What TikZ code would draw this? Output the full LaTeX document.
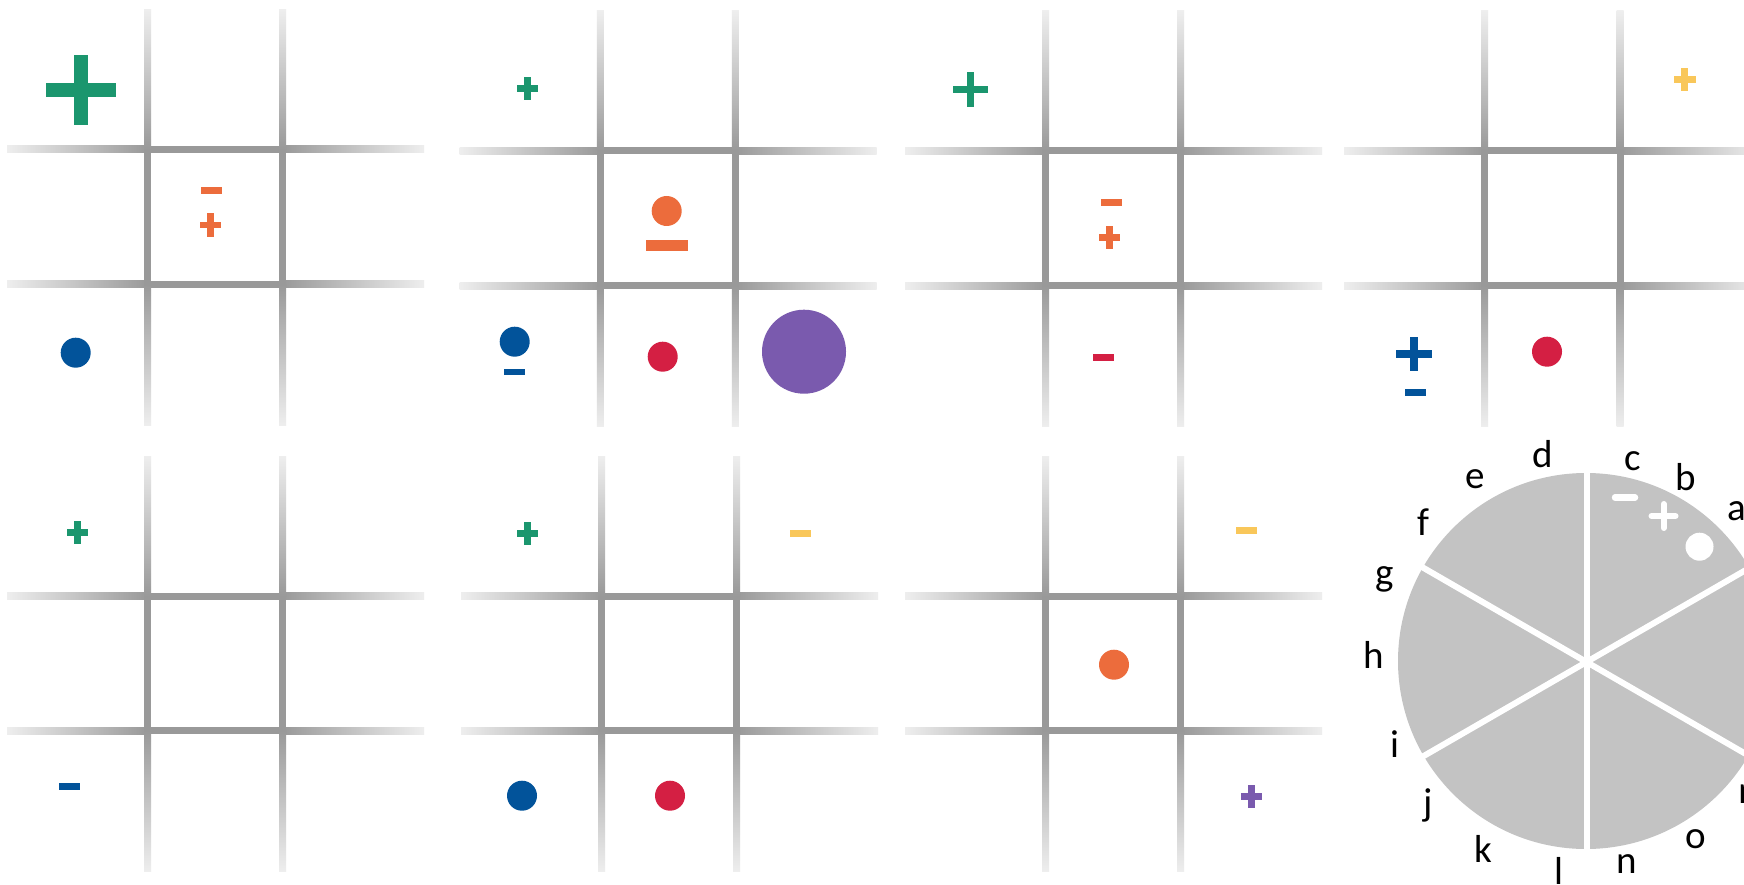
\documentclass[tikz,border=0pt]{standalone}
\usepackage{fontspec}
\setmainfont{Carlito}
\definecolor{gline}{HTML}{999999}
\definecolor{gfade}{HTML}{EEEEEE}
\definecolor{cgreen}{HTML}{1B966E}
\definecolor{corange}{HTML}{EC6C3C}
\definecolor{cblue}{HTML}{02539A}
\definecolor{cred}{HTML}{D41F43}
\definecolor{cpurple}{HTML}{7A5AAE}
\definecolor{cyellow}{HTML}{F9C75A}
\definecolor{piegray}{HTML}{C3C3C3}
\newcommand\GridPanel[4]{%
  \foreach \yy in {#3,#4}{%
    \shade[left color=gfade,right color=gline] (#1-140.7,\yy-3.5) rectangle (#1,\yy+3.5);
    \fill[gline] (#1-0.5,\yy-3.5) rectangle (#2+0.5,\yy+3.5);
    \shade[left color=gline,right color=gfade] (#2,\yy-3.5) rectangle (#2+141.3,\yy+3.5);
  }%
  \foreach \xx in {#1,#2}{%
    \shade[top color=gfade,bottom color=gline] (\xx-3.5,#3-140) rectangle (\xx+3.5,#3);
    \fill[gline] (\xx-3.5,#3-0.5) rectangle (\xx+3.5,#4+0.5);
    \shade[top color=gline,bottom color=gfade] (\xx-3.5,#4) rectangle (\xx+3.5,#4+141);
  }}
% plus: x, y, half width, half height, half thickness, colour
\newcommand\PlusMk[6]{%
  \fill[#6] (#1-#3,#2-#5) rectangle (#1+#3,#2+#5);
  \fill[#6] (#1-#5,#2-#4) rectangle (#1+#5,#2+#4);}
% minus: x, y, half width, half thickness, colour
\newcommand\MinusMk[5]{%
  \fill[#5] (#1-#3,#2-#4) rectangle (#1+#3,#2+#4);}
\newcommand\DotMk[4]{%
  \fill[#4] (#1,#2) circle[radius=#3pt];}
\tikzset{lbl/.style={anchor=base,inner sep=0pt,font=\fontsize{39}{46}\selectfont}}
\begin{document}
\begin{tikzpicture}[x=1pt,y=-1pt]
\useasboundingbox (0,0) rectangle (1744,885);
\fill[white] (0,0) rectangle (1744,885);
\clip (0,0) rectangle (1744,885);
% grids
\GridPanel{147.7}{282.7}{149.3}{284.3}
\GridPanel{600.3}{735.3}{151}{285.7}
\GridPanel{1045.7}{1180.7}{151}{285.7}
\GridPanel{1484.7}{1620}{151}{285.7}
\GridPanel{147.7}{282.7}{596}{730.7}
\GridPanel{601.7}{736.7}{596}{730.7}
\GridPanel{1045.7}{1180.7}{596}{730.7}
% panel 1
\PlusMk{80.7}{90}{35}{35}{6.8}{cgreen}
\MinusMk{211.7}{190.7}{10.7}{3.4}{corange}
\PlusMk{210.7}{225}{10.7}{11.7}{3.4}{corange}
\DotMk{75.7}{352.7}{15}{cblue}
% panel 2
\PlusMk{527.3}{88.3}{10.7}{11.5}{3.5}{cgreen}
\DotMk{666.7}{211}{15}{corange}
\MinusMk{666.7}{245.7}{20.8}{5.7}{corange}
\DotMk{514.7}{341.7}{15}{cblue}
\MinusMk{514}{371.7}{10.5}{3.2}{cblue}
\DotMk{662.7}{356.7}{15}{cred}
\DotMk{804}{351.7}{42}{cpurple}
% panel 3
\PlusMk{970.3}{89.7}{17.8}{17.3}{3.7}{cgreen}
\MinusMk{1111}{203}{10.5}{3.5}{corange}
\PlusMk{1109.7}{237.3}{10.5}{11.5}{3.5}{corange}
\MinusMk{1103.7}{357}{10.5}{3.5}{cred}
% panel 4
\PlusMk{1684.7}{79.7}{10.8}{11.5}{3.5}{cyellow}
\PlusMk{1414.3}{354}{18}{16.8}{4}{cblue}
\MinusMk{1415.7}{392.3}{10.5}{3.5}{cblue}
\DotMk{1547}{351.7}{15}{cred}
% panel 5
\PlusMk{77.3}{532}{10.7}{11.5}{3.5}{cgreen}
\MinusMk{69}{786.7}{10.5}{3.5}{cblue}
% panel 6
\PlusMk{527.7}{533.3}{10.7}{11.5}{3.5}{cgreen}
\MinusMk{800.3}{533.3}{10.5}{3.5}{cyellow}
\DotMk{522}{795.7}{15}{cblue}
\DotMk{670}{795.7}{15}{cred}
% panel 7
\MinusMk{1246.7}{530.7}{10.5}{3.5}{cyellow}
\DotMk{1114}{664.7}{15}{corange}
\PlusMk{1251.7}{796.3}{10.7}{11.5}{3.5}{cpurple}
% pie
\coordinate (pc) at (1586.5,662);
\fill[piegray] (1586,661) circle[radius=188pt];
\foreach \a in {30,90,150,210,270,330}{
  \draw[white,line width=6pt] (pc) -- ++(\a:196);
}
\draw[white,line width=6.5pt,line cap=round] (1615,497.5) -- (1635,497.5);
\draw[white,line width=6pt,line cap=round] (1651.5,516) -- (1675.5,516);
\draw[white,line width=6pt,line cap=round] (1663.7,504) -- (1663.7,528);
\fill[white] (1699.5,546.7) circle[radius=14pt];
% labels
\node[lbl] (la) at (1737,520) {a};
\node[lbl] (lb) at (1686,490) {b};
\node[lbl] (lc) at (1633,470) {c};
\node[lbl] (ld) at (1543,467) {d};
\node[lbl] (le) at (1475,488) {e};
\node[lbl] (lf) at (1423,535) {f};
\node[lbl] (lg) at (1385,585) {g};
\node[lbl] (lh) at (1374,668) {h};
\node[lbl] (li) at (1395,757) {i};
\node[lbl] (lj) at (1428,815) {j};
\node[lbl] (lk) at (1483,862) {k};
\node[lbl] (ll) at (1559,884) {l};
\node[lbl] (ln) at (1627,873) {n};
\node[lbl] (lo) at (1696,848) {o};
\node[lbl] (lm) at (1754,803) {m};
\end{tikzpicture}
\end{document}
